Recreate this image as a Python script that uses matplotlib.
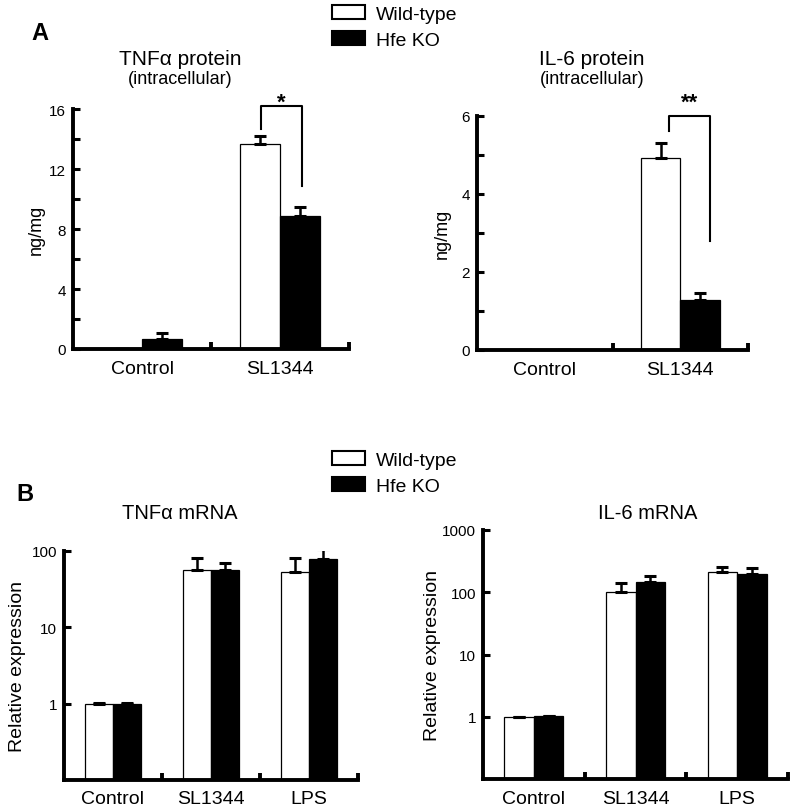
import matplotlib
matplotlib.use("Agg")
import matplotlib.pyplot as plt
import numpy as np
from matplotlib.patches import Patch

plt.rcParams['font.family'] = ['Liberation Sans', 'DejaVu Sans']

series_names = ["Wild-type", "Hfe KO"]

# Panel A: protein
protein_cats = ["Control", "SL1344"]
tnf_prot_wt = [0.0, 13.7]
tnf_prot_wt_err = [0.0, 0.5]
tnf_prot_ko = [0.7, 8.9]
tnf_prot_ko_err = [0.4, 0.6]
tnf_prot_ticks = [0, 4, 8, 12, 16]

il6_prot_wt = [0.0, 4.92]
il6_prot_wt_err = [0.0, 0.4]
il6_prot_ko = [0.0, 1.28]
il6_prot_ko_err = [0.0, 0.18]
il6_prot_ticks = [0, 2, 4, 6]

# Panel B: mRNA
mrna_cats = ["Control", "SL1344", "LPS"]
tnf_mrna_wt = [1.0, 56, 53]
tnf_mrna_wt_err = [0.02, 25, 27]
tnf_mrna_ko = [1.0, 56, 78]
tnf_mrna_ko_err = [0.02, 13, 28]
tnf_mrna_ticks = [1, 10, 100]

il6_mrna_wt = [1.0, 100, 210]
il6_mrna_wt_err = [0.0, 40, 40]
il6_mrna_ko = [1.04, 145, 195]
il6_mrna_ko_err = [0.0, 35, 50]
il6_mrna_ticks = [1, 10, 100, 1000]

W = 0.29

fig = plt.figure(figsize=(8, 8.12), dpi=100)

def style_axes(ax, cats):
    ncat = len(cats)
    ax.spines['top'].set_visible(False)
    ax.spines['right'].set_visible(False)
    ax.spines['left'].set_linewidth(2.8)
    ax.spines['bottom'].set_linewidth(2.8)
    ax.set_xlim(-0.5, ncat - 0.5)
    ax.set_xticks(np.arange(ncat) + 0.5)
    ax.tick_params(axis='x', which='major', direction='in', length=5, width=2.8, labelbottom=False)
    ax.tick_params(axis='y', which='both', direction='in', length=5, width=2.2, labelsize=11, pad=5)
    for i, c in enumerate(cats):
        ax.text(i, -0.045, c, transform=ax.get_xaxis_transform(),
                ha='center', va='top', fontsize=14)

def draw_bars(ax, wt, wte, ko, koe):
    x = np.arange(len(wt))
    ax.bar(x - W/2, wt, W, color='white', edgecolor='black', linewidth=0.9, zorder=2)
    ax.bar(x + W/2, ko, W, color='black', edgecolor='black', linewidth=0.9, zorder=2)
    ax.errorbar(x - W/2, wt, yerr=[np.zeros(len(wt)), wte], fmt='none', ecolor='black',
                elinewidth=1.8, capsize=4, capthick=2.2, zorder=3)
    ax.errorbar(x + W/2, ko, yerr=[np.zeros(len(ko)), koe], fmt='none', ecolor='black',
                elinewidth=1.8, capsize=4, capthick=2.2, zorder=3)

# A left
ax1 = fig.add_axes([73/800, 1-350/812, 276/800, 240/812])
draw_bars(ax1, tnf_prot_wt, tnf_prot_wt_err, tnf_prot_ko, tnf_prot_ko_err)
style_axes(ax1, protein_cats)
ax1.set_ylim(0, 16)
ax1.set_yticks(tnf_prot_ticks)
ax1.set_yticks([2, 6, 10, 14], minor=True)
ax1.set_ylabel("ng/mg", fontsize=13, labelpad=3)
ax1.plot([0.862, 0.862, 1.16, 1.16], [14.67, 16.2, 16.2, 10.87], color='black', lw=1.5, clip_on=False)
ax1.text(1.01, 16.45, "*", ha='center', va='center', fontsize=16, fontweight='bold')
ax1.text(0.388, 1.21, "TNFα protein", transform=ax1.transAxes, ha='center', va='center', fontsize=15)
ax1.text(0.388, 1.128, "(intracellular)", transform=ax1.transAxes, ha='center', va='center', fontsize=13)

# A right
ax2 = fig.add_axes([477/800, 1-351/812, 271/800, 234/812])
draw_bars(ax2, il6_prot_wt, il6_prot_wt_err, il6_prot_ko, il6_prot_ko_err)
style_axes(ax2, protein_cats)
ax2.set_ylim(0, 6)
ax2.set_yticks(il6_prot_ticks)
ax2.set_yticks([1, 3, 5], minor=True)
ax2.set_ylabel("ng/mg", fontsize=13, labelpad=8)
ax2.plot([0.917, 0.917, 1.22, 1.22], [5.62, 6.0, 6.0, 2.8], color='black', lw=1.5, clip_on=False)
ax2.text(1.07, 6.35, "**", ha='center', va='center', fontsize=16, fontweight='bold')
ax2.text(0.424, 1.245, "IL-6 protein", transform=ax2.transAxes, ha='center', va='center', fontsize=15)
ax2.text(0.424, 1.162, "(intracellular)", transform=ax2.transAxes, ha='center', va='center', fontsize=13)

# B left
ax3 = fig.add_axes([64/800, 1-781/812, 294/800, 229/812])
ax3.set_yscale('log')
draw_bars(ax3, tnf_mrna_wt, tnf_mrna_wt_err, tnf_mrna_ko, tnf_mrna_ko_err)
style_axes(ax3, mrna_cats)
ax3.set_ylim(0.1, 100)
ax3.set_yticks(tnf_mrna_ticks)
ax3.set_yticklabels([str(t) for t in tnf_mrna_ticks])
ax3.yaxis.set_minor_locator(matplotlib.ticker.NullLocator())
ax3.set_ylabel("Relative expression", fontsize=14, labelpad=4)
ax3.text(0.395, 1.17, "TNFα mRNA", transform=ax3.transAxes, ha='center', va='center', fontsize=14.5)

# B right
ax4 = fig.add_axes([483/800, 1-780/812, 305/800, 249/812])
ax4.set_yscale('log')
draw_bars(ax4, il6_mrna_wt, il6_mrna_wt_err, il6_mrna_ko, il6_mrna_ko_err)
style_axes(ax4, mrna_cats)
ax4.set_ylim(0.1, 1000)
ax4.set_yticks(il6_mrna_ticks)
ax4.set_yticklabels([str(t) for t in il6_mrna_ticks])
ax4.yaxis.set_minor_locator(matplotlib.ticker.NullLocator())
ax4.set_ylabel("Relative expression", fontsize=14, labelpad=1)
ax4.text(0.54, 1.07, "IL-6 mRNA", transform=ax4.transAxes, ha='center', va='center', fontsize=14.5)

# Panel letters
fig.text(31/800, 1-33/812, "A", fontsize=17, fontweight='bold', ha='left', va='center')
fig.text(16/800, 1-495/812, "B", fontsize=17, fontweight='bold', ha='left', va='center')

handles = [Patch(facecolor='white', edgecolor='black', linewidth=1.5),
           Patch(facecolor='black', edgecolor='black', linewidth=1.5)]
for y0 in [6/812, 452/812]:
    fig.legend(handles, series_names, loc='upper left', bbox_to_anchor=(332/800, 1 - y0),
               frameon=False, fontsize=14, handlelength=1.7, handleheight=0.75,
               handletextpad=0.55, labelspacing=0.4, borderpad=0, borderaxespad=0)

fig.savefig("out.png", dpi=100)
